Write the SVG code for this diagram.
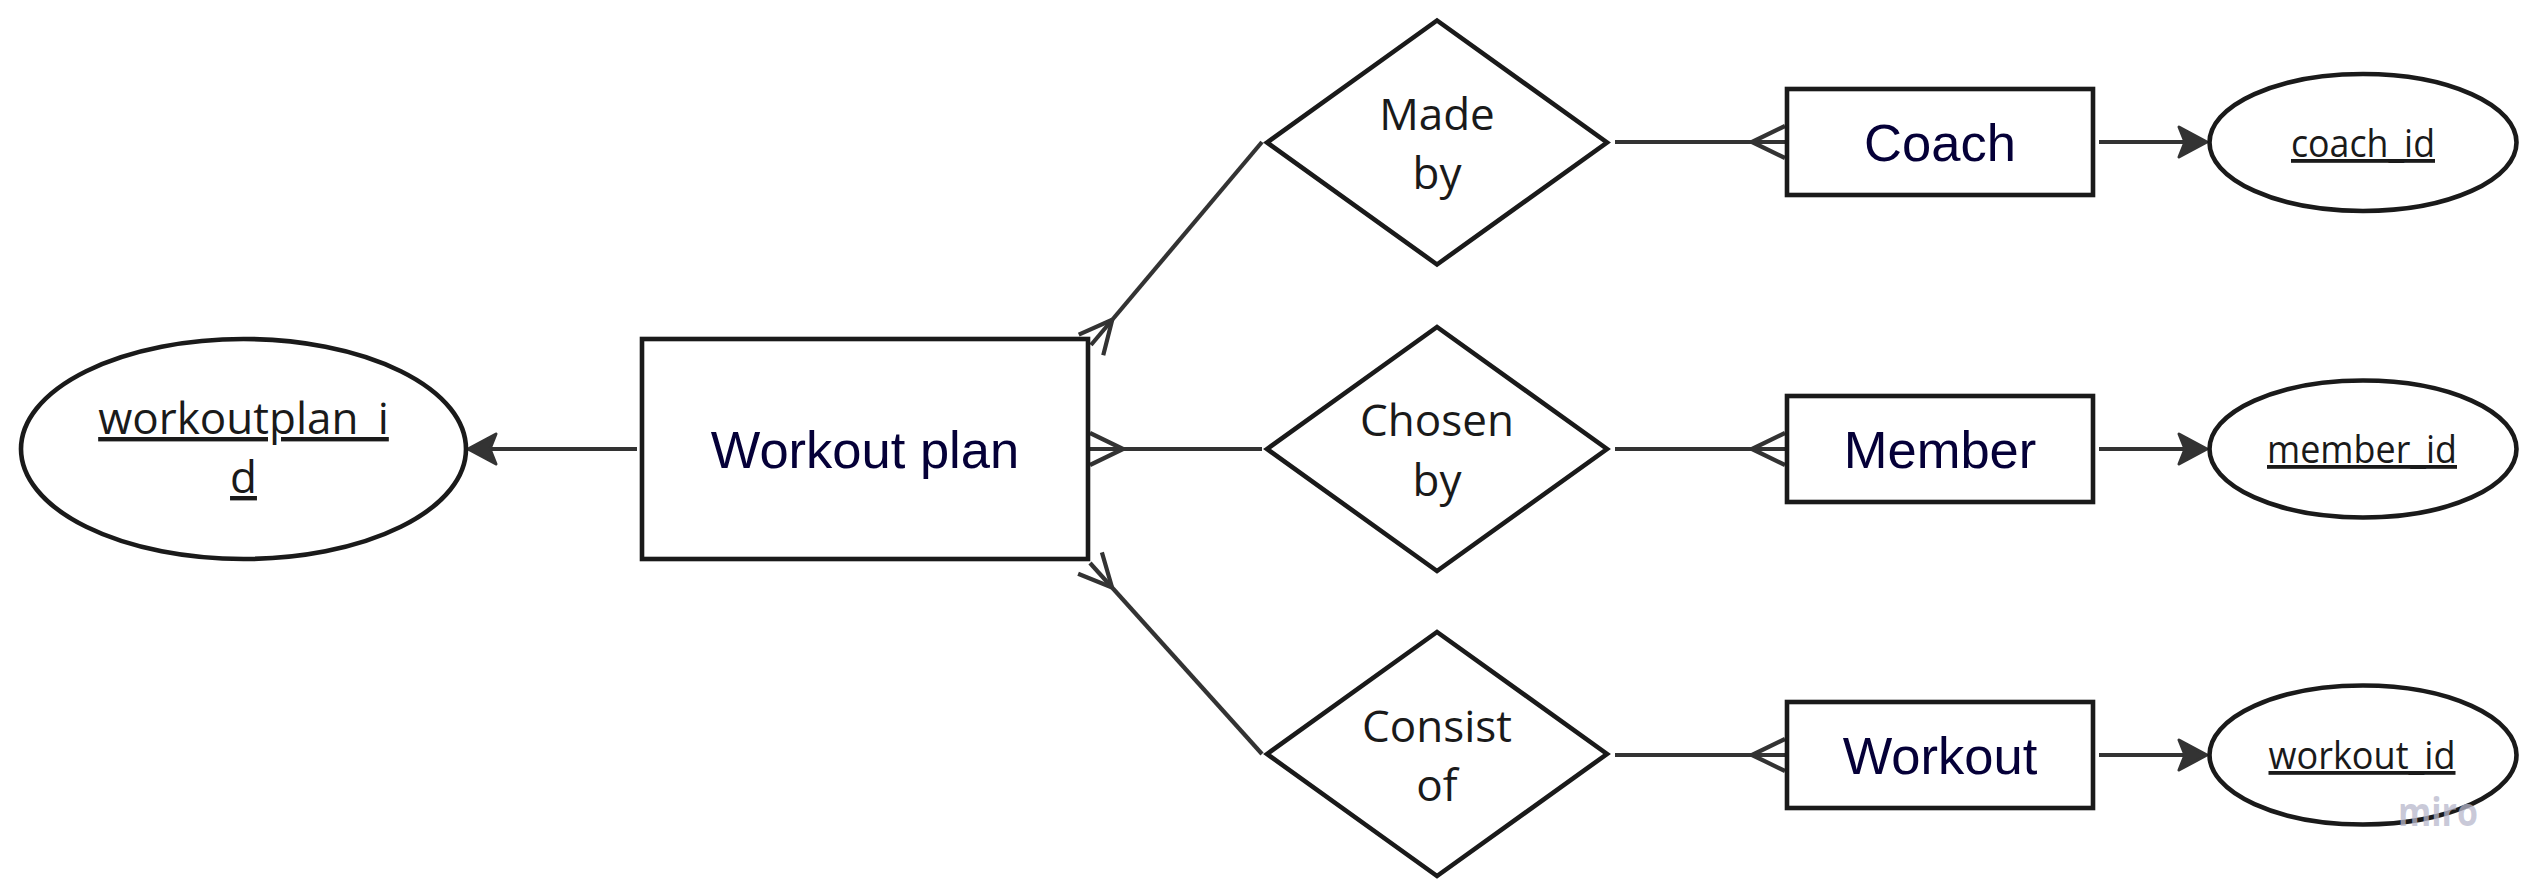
<svg xmlns="http://www.w3.org/2000/svg" width="2537" height="886" viewBox="0 0 2537 886">
<style>
.shape{fill:#ffffff;stroke:#1a1a1a;stroke-width:4.6;stroke-linejoin:miter}
.conn{stroke:#333333;stroke-width:4.2;fill:none}
.ent{font-family:"Liberation Sans",Arial,sans-serif;font-size:52.5px;fill:#050038;text-anchor:middle}
.rel{font-family:"Open Sans","Noto Sans",sans-serif;font-size:44px;fill:#1a1a1a;text-anchor:middle}
.attr{font-family:"Open Sans","Noto Sans",sans-serif;font-size:38px;fill:#1a1a1a;text-anchor:middle;text-decoration:underline}
.wm{font-family:"Open Sans","Noto Sans",sans-serif;font-size:40px;font-weight:bold;fill:#b8b8cc;fill-opacity:0.75}
</style>
<defs>
<marker id="arrow" markerUnits="userSpaceOnUse" viewBox="-15 -20 40 40" markerWidth="40" markerHeight="40" refX="0" refY="0" orient="auto" overflow="visible">
<path d="M20,0 L-8,-15 L-2,0 L-8,15 Z" fill="#333333" stroke="#333333" stroke-width="3" stroke-linejoin="round"/>
</marker>
<marker id="crow" markerUnits="userSpaceOnUse" viewBox="-40 -20 44 40" markerWidth="44" markerHeight="40" refX="0" refY="0" orient="auto" overflow="visible">
<path d="M-33,0 L0,-16 M-33,0 L0,16" fill="none" stroke="#333333" stroke-width="4.2"/>
</marker>
</defs>
<rect x="0" y="0" width="2537" height="886" fill="#ffffff"/>

<g id="connectors">
<line class="conn" x1="637" y1="449" x2="488" y2="449" marker-end="url(#arrow)"/>
<line class="conn" x1="1262" y1="142" x2="1091" y2="345" marker-end="url(#crow)"/>
<line class="conn" x1="1262" y1="449" x2="1090" y2="449" marker-end="url(#crow)"/>
<line class="conn" x1="1262" y1="754" x2="1090" y2="563" marker-end="url(#crow)"/>
<line class="conn" x1="1615" y1="142" x2="1785" y2="142" marker-end="url(#crow)"/>
<line class="conn" x1="1615" y1="449" x2="1785" y2="449" marker-end="url(#crow)"/>
<line class="conn" x1="1615" y1="755" x2="1785" y2="755" marker-end="url(#crow)"/>
<line class="conn" x1="2099" y1="142" x2="2187" y2="142" marker-end="url(#arrow)"/>
<line class="conn" x1="2099" y1="449" x2="2187" y2="449" marker-end="url(#arrow)"/>
<line class="conn" x1="2099" y1="755" x2="2187" y2="755" marker-end="url(#arrow)"/>
</g>

<g id="workoutplan_id">
<ellipse class="shape" cx="243.5" cy="449" rx="222.5" ry="110"/>
<text class="attr" style="font-size:44px" x="243.5" y="434">workoutplan_i</text>
<text class="attr" style="font-size:44px" x="243.5" y="493">d</text>
</g>

<g id="workout_plan">
<rect class="shape" x="642" y="339" width="446" height="220"/>
<text class="ent" x="865" y="468">Workout plan</text>
</g>

<g id="made_by">
<polygon class="shape" points="1267,142.5 1437,20.5 1607,142.5 1437,264.5"/>
<text class="rel" x="1437" y="130">Made</text>
<text class="rel" x="1437" y="189">by</text>
</g>

<g id="chosen_by">
<polygon class="shape" points="1267,449 1437,327 1607,449 1437,571"/>
<text class="rel" x="1437" y="436">Chosen</text>
<text class="rel" x="1437" y="496">by</text>
</g>

<g id="consist_of">
<polygon class="shape" points="1267,754 1437,632 1607,754 1437,876"/>
<text class="rel" x="1437" y="742">Consist</text>
<text class="rel" x="1437" y="801">of</text>
</g>

<g id="coach">
<rect class="shape" x="1787" y="89" width="306" height="106"/>
<text class="ent" x="1940" y="161">Coach</text>
</g>

<g id="member">
<rect class="shape" x="1787" y="396" width="306" height="106"/>
<text class="ent" x="1940" y="468">Member</text>
</g>

<g id="workout">
<rect class="shape" x="1787" y="702" width="306" height="106"/>
<text class="ent" x="1940" y="774">Workout</text>
</g>

<g id="coach_id">
<ellipse class="shape" cx="2363" cy="142.5" rx="153.5" ry="68.5"/>
<text class="attr" x="2363" y="157" textLength="144" lengthAdjust="spacingAndGlyphs">coach_id</text>
</g>

<g id="member_id">
<ellipse class="shape" cx="2363" cy="449" rx="153.5" ry="68.5"/>
<text class="attr" x="2362" y="463" textLength="190" lengthAdjust="spacingAndGlyphs">member_id</text>
</g>

<g id="workout_id">
<ellipse class="shape" cx="2363" cy="755" rx="153.5" ry="69.5"/>
<text class="attr" x="2362" y="769" textLength="187" lengthAdjust="spacingAndGlyphs">workout_id</text>
</g>

<text class="wm" x="2398" y="826" textLength="80" lengthAdjust="spacingAndGlyphs">miro</text>
</svg>
